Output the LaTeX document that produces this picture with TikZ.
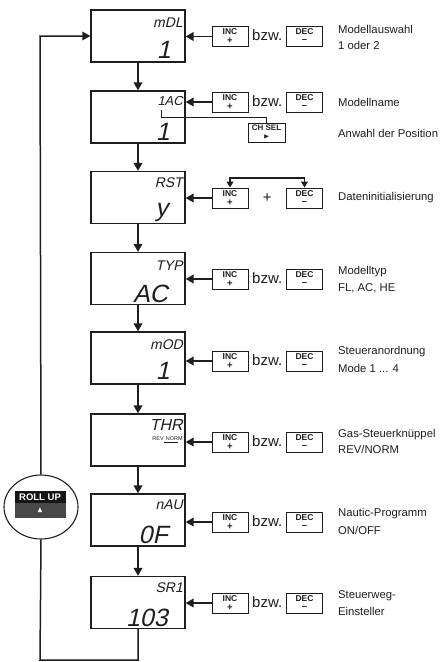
\documentclass[tikz,border=0pt]{standalone}
\usepackage{amssymb}
\usepackage{fontspec}
\setmainfont{Liberation Sans}
\newfontfamily\lcd[FakeSlant=0.22]{Liberation Sans}
\usetikzlibrary{arrows.meta,calc,shapes.geometric}
\definecolor{ink}{HTML}{1E1E1E}
\definecolor{rollbg}{HTML}{484848}
\definecolor{rolltop}{HTML}{161616}
\begin{document}
\begin{tikzpicture}[x=1pt,y=-1pt,
  disp/.style={draw=ink, line width=1.2pt, minimum width=94pt, minimum height=52pt, inner sep=0pt},
  btn/.style={draw=ink, line width=1pt, minimum width=36pt, minimum height=20pt, inner sep=0pt},
  btxt/.style={font=\bfseries\fontsize{8.5}{8.5}\selectfont, inner sep=0pt, text=ink},
  bsym/.style={font=\bfseries\fontsize{9.5}{9.5}\selectfont, inner sep=0pt, text=ink},
  flow/.style={draw=ink, line width=1.9pt, -{Triangle[length=8pt,width=8.5pt]}},
  loopline/.style={draw=ink, line width=1.5pt},
  thin/.style={draw=ink, line width=0.9pt},
  lbl/.style={font=\fontsize{11.3}{11.3}\selectfont, anchor=west, inner sep=0pt, text=ink},
  bzw/.style={font=\fontsize{15}{15}\selectfont, inner sep=0pt, text=ink},
  top/.style={font=\lcd\fontsize{14}{14}\selectfont, anchor=base east, inner sep=0pt, text=ink},
  val/.style={font=\lcd\fontsize{25}{25}\selectfont, anchor=base east, inner sep=0pt, text=ink}]
\useasboundingbox (0,0) rectangle (445,662);

% display boxes
\foreach \n/\y in {1/36, 2/117, 3/197.5, 4/278.5, 5/358, 6/440, 7/520, 8/602.5}
  \node[disp] (d\n) at (138,\y) {};

% vertical flow arrows
\foreach \a/\b in {1/2,2/3,3/4,4/5,5/6,6/7,7/8}
  \draw[flow] (d\a.south) -- (d\b.north);

% display texts
\node[top] (t1) at (183,27) {mDL};
\node[val] (v1) at (171,58) {1};
\node[top, font=\lcd\fontsize{13}{13}\selectfont] (t2) at (183,105) {1AC};
\node[val] (v2) at (170,140) {1};
\node[top] (t3) at (183,187) {RST};
\node[val] (v3) at (168,216) {y};
\node[top] (t4) at (183,270) {TYP};
\node[val] (v4) at (168,302) {AC};
\node[top] (t5) at (183,349) {mOD};
\node[val] (v5) at (170,379) {1};
\node[top, font=\lcd\fontsize{16}{16}\selectfont] (t6) at (183,430) {THR};
\node[anchor=base east, inner sep=0pt, font=\fontsize{5.5}{5.5}\selectfont, text=ink] (r6) at (183,440) {REV$\cdot$NORM};
\draw[thin, line width=1.1pt] ([yshift=-2.5pt]r6.south east) ++(-5,0) -- ++(-14,0);
\node[top] (t7) at (183,509) {nAU};
\node[val] (v7) at (168,543) {0F};
\node[top] (t8) at (183,592) {SR1};
\node[val] (v8) at (168,626) {103};

% buttons rows
\foreach \n/\y in {1/36.5, 2/102, 3/198, 4/279, 5/361, 6/442, 7/522, 8/603} {
  \node[btn] (i\n) at (230,\y) {};
  \node[btn] (e\n) at (304.5,\y) {};
  \node[btxt] (ia\n) at ([yshift=4.8pt]i\n.center) {INC};
  \node[bsym] (ib\n) at ([yshift=-4.6pt]i\n.center) {+};
  \node[btxt] (ea\n) at ([yshift=4.8pt]e\n.center) {DEC};
  \node[bsym] (eb\n) at ([yshift=-4.6pt]e\n.center) {--};
  \draw[flow] (i\n.west) -- (i\n.west -| d\n.east);
}
\foreach \n in {1,2,4,5,6,7,8}
  \node[bzw] (z\n) at ([yshift=1pt]$(i\n.east)!0.5!(e\n.west)$) {bzw.};
\node[bzw, font=\fontsize{15}{15}\selectfont] (p3) at ($(i3.east)!0.5!(e3.west)$) {+};

% CH SEL button
\node[btn, minimum height=19pt, minimum width=37pt] (ch) at (266.5,132.5) {};
\node[btxt, font=\bfseries\fontsize{8}{8}\selectfont] (cha) at ([yshift=4.6pt]ch.center) {CH SEL};
\node[inner sep=0pt, font=\fontsize{6.5}{6.5}\selectfont, text=ink] (chb) at ([yshift=-4.6pt]ch.center) {$\blacktriangleright$};
\coordinate (cp) at (161,110);
\draw[thin] (cp) -- (161,117) -- (266.5,117) -- (ch.north);

% INC + DEC bracket
\coordinate (br) at (266,178);
\draw[thin, line width=1.1pt, {Triangle[length=6pt,width=7pt]}-{Triangle[length=6pt,width=7pt]}] (i3.north) -- (i3.north |- br) -- (e3.north |- br) -- (e3.north);

% labels
\node[lbl] (l1a) at (338,29) {Modellauswahl};
\node[lbl] (l1b) at (338,45) {1 oder 2};
\node[lbl] (l2a) at (338,102) {Modellname};
\node[lbl] (l2b) at (338,133) {Anwahl der Position};
\node[lbl] (l3) at (338,198) {Dateninitialisierung};
\node[lbl] (l4a) at (338,272) {Modelltyp};
\node[lbl] (l4b) at (338,288) {FL, AC, HE};
\node[lbl] (l5a) at (338,352) {Steueranordnung};
\node[lbl] (l5b) at (338,368) {Mode 1 ... 4};
\node[lbl] (l6a) at (338,435) {Gas-Steuerknüppel};
\node[lbl] (l6b) at (338,449) {REV/NORM};
\node[lbl] (l7a) at (338,514) {Nautic-Programm};
\node[lbl] (l7b) at (338,530) {ON/OFF};
\node[lbl] (l8a) at (338,596) {Steuerweg-};
\node[lbl] (l8b) at (338,611) {Einsteller};

% ROLL UP circle
\node[draw=ink, line width=1.1pt, ellipse, minimum width=74pt, minimum height=64pt, inner sep=0pt] (ru) at (41,507) {};
\fill[rollbg] (14.5,491) rectangle (65.5,518);
\fill[rolltop] (14.5,491) rectangle (65.5,503);
\node[inner sep=0pt, text=white, font=\bfseries\fontsize{9.5}{9.5}\selectfont] (rut) at (40,497) {ROLL UP};
\node[inner sep=0pt, text=white, font=\fontsize{8}{8}\selectfont] (rua) at (40,510.5) {$\blacktriangle$};

% return loop
\coordinate (c1) at (40,660);
\coordinate (c2) at (40,36);
\draw[loopline] (d8.south) -- (d8.south |- c1) -- (c1) -- (ru.south);
\draw[loopline, -{Triangle[length=8pt,width=8.5pt]}] (ru.north) -- (c2) -- (d1.west);
\end{tikzpicture}
\end{document}
